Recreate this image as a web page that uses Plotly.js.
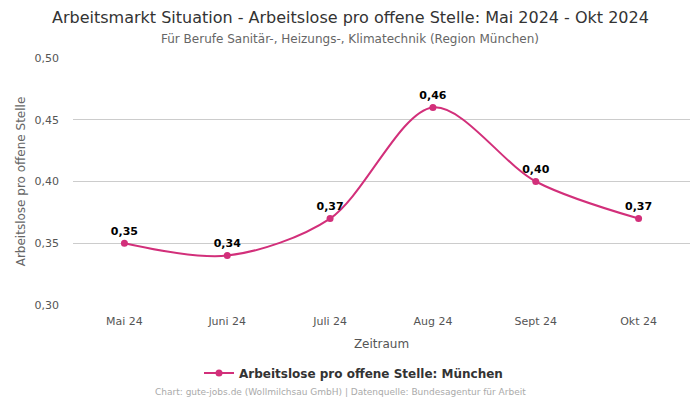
<!DOCTYPE html>
<html>
<head>
<meta charset="utf-8">
<script src="https://cdn.plot.ly/plotly-3.0.1.min.js"></script>
<style>html,body{margin:0;padding:0;background:#fff;}#chart{width:700px;height:400px;}</style>
</head>
<body>
<div id="chart"></div>
<script>
const categories = ["Mai 24", "Juni 24", "Juli 24", "Aug 24", "Sept 24", "Okt 24"];
const values = [0.35, 0.34, 0.37, 0.46, 0.40, 0.37];
const seriesName = "Arbeitslose pro offene Stelle: München";
const yTicks = [0.30, 0.35, 0.40, 0.45, 0.50];

const color = "#d22f7a";
const fontFam = "DejaVu Sans, sans-serif";

const trace = {
  x: categories,
  y: values,
  type: "scatter",
  mode: "lines+markers+text",
  name: seriesName,
  line: {color: color, width: 2, shape: "spline", smoothing: 0.9},
  marker: {color: color, size: 7},
  text: values.map(v => v.toFixed(2).replace(".", ",")),
  textposition: "top center",
  textfont: {family: fontFam, size: 11, color: "#000", weight: "bold"},
  cliponaxis: false
};

const layout = {
  width: 700, height: 400,
  margin: {l: 73, r: 10, t: 58, b: 95, autoexpand: false},
  paper_bgcolor: "#fff", plot_bgcolor: "#fff",
  font: {family: fontFam, color: "#555"},
  xaxis: {
    type: "category",
    range: [-0.5, 5.5],
    title: {text: "Zeitraum", font: {size: 12, color: "#555"}, standoff: 12},
    tickfont: {size: 11, color: "#555"},
    ticklabelstandoff: 8,
    showgrid: false, zeroline: false, showline: false,
    ticks: "", ticklen: 0
  },
  yaxis: {
    range: [0.30, 0.50],
    tickvals: yTicks,
    ticktext: yTicks.map(v => v.toFixed(2).replace(".", ",")),
    title: {text: "Arbeitslose pro offene Stelle", font: {size: 12, color: "#666"}, standoff: 6},
    tickfont: {size: 11, color: "#555"},
    ticklabelstandoff: 13,
    gridcolor: "#cccccc", gridwidth: 1,
    zeroline: false, showline: false,
    ticks: "", ticklen: 0
  },
  showlegend: true,
  legend: {
    orientation: "h", xref: "container", yref: "container",
    x: 0.505, xanchor: "center", y: 1 - 373/400, yanchor: "middle",
    font: {size: 12, color: "#333", weight: "bold"}
  },
  annotations: [
    {
      text: "Arbeitsmarkt Situation - Arbeitslose pro offene Stelle: Mai 2024 - Okt 2024",
      xref: "paper", yref: "paper", x: (350-73)/617, y: (305-17)/247, xanchor: "center", yanchor: "middle",
      showarrow: false, font: {size: 16, color: "#333"}
    },
    {
      text: "Für Berufe Sanitär-, Heizungs-, Klimatechnik (Region München)",
      xref: "paper", yref: "paper", x: (350-73)/617, y: (305-39)/247, xanchor: "center", yanchor: "middle",
      showarrow: false, font: {size: 12, color: "#666"}
    },
    {
      text: "Chart: gute-jobs.de (Wollmilchsau GmbH) | Datenquelle: Bundesagentur für Arbeit",
      xref: "paper", yref: "paper", x: (340-73)/617, y: (305-392)/247, xanchor: "center", yanchor: "middle",
      showarrow: false, font: {size: 9, color: "#aaa"}
    }
  ]
};

Plotly.newPlot("chart", [trace], layout, {displayModeBar: false, staticPlot: true});
</script>
</body>
</html>
